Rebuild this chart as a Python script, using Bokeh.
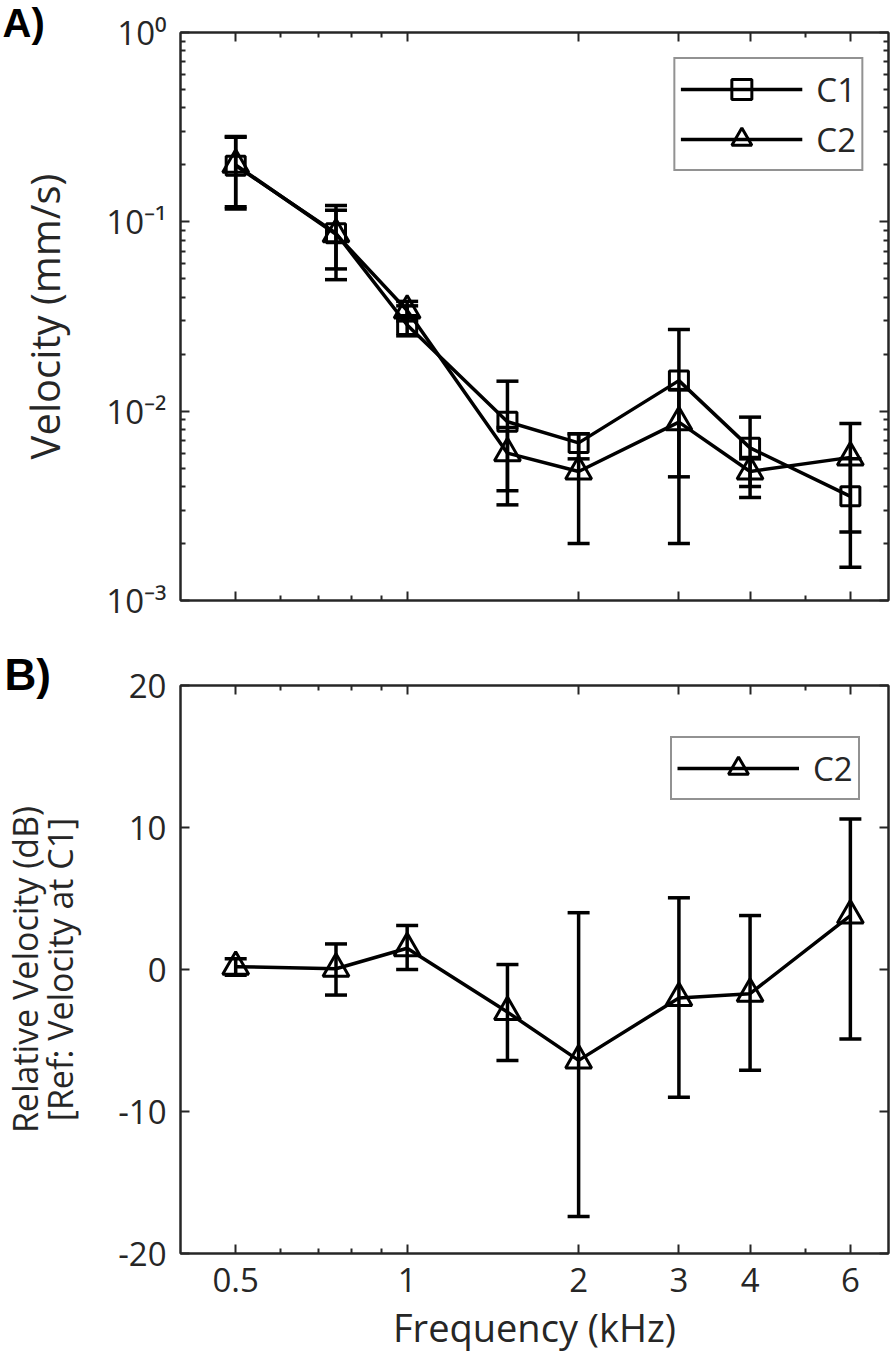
import math
from bokeh.plotting import figure
from bokeh.models import (ColumnDataSource, Whisker, TeeHead, FixedTicker,
                          LogAxis, LinearAxis, Legend, LegendItem, Label,
                          CustomJSTickFormatter)
from bokeh.layouts import column
from bokeh.embed import file_html
from bokeh.resources import INLINE

# ---------------- data ----------------
freq_khz = [0.5, 0.75, 1.0, 1.5, 2.0, 3.0, 4.0, 6.0]

c1_velocity = [0.198, 0.087, 0.0285, 0.0088, 0.0068, 0.0145, 0.0064, 0.00355]
c1_upper = [0.282, 0.115, 0.036, 0.0144, 0.0076, 0.027, 0.0093, 0.0056]
c1_lower = [0.117, 0.0564, 0.025, 0.0032, 0.0056, 0.0020, 0.0035, 0.0015]

c2_velocity = [0.200, 0.086, 0.034, 0.0060, 0.0048, 0.00875, 0.0048, 0.0057]
c2_upper = [0.280, 0.122, 0.038, 0.0082, 0.0076, 0.013, 0.0056, 0.0086]
c2_lower = [0.120, 0.0495, 0.030, 0.0038, 0.0020, 0.0045, 0.0040, 0.0023]

rel_db = [0.2, 0.05, 1.5, -3.0, -6.4, -2.0, -1.7, 3.8]
rel_upper = [0.75, 1.8, 3.1, 0.35, 4.0, 5.05, 3.8, 10.6]
rel_lower = [-0.4, -1.8, 0.0, -6.4, -17.4, -9.0, -7.1, -4.9]

x_ticks = [0.5, 1, 2, 3, 4, 6]
x_tick_labels = ["0.5", "1", "2", "3", "4", "6"]
x_minor_ticks = [0.6, 0.7, 0.8, 0.9, 5]
ya_ticks = [0.001, 0.01, 0.1, 1]
ya_tick_labels = ["10\u207b\u00b3", "10\u207b\u00b2", "10\u207b\u00b9", "10\u2070"]
ya_minor_ticks = [m * d for d in (0.001, 0.01, 0.1) for m in range(2, 10)]
yb_ticks = [-20, -10, 0, 10, 20]
yb_tick_labels = ["-20", "-10", "0", "10", "20"]

INK = "#262626"
FONT = "Open Sans"
FS = "33px"
XLABEL_FS = "38px"


def log_formatter(tick_values, tick_labels):
    return CustomJSTickFormatter(args=dict(tvals=tick_values, tlabs=tick_labels), code="""
        let best = 0, bd = Infinity;
        for (let i = 0; i < tvals.length; i++) {
            const d = Math.abs(Math.log(tick) - Math.log(tvals[i]));
            if (d < bd) { bd = d; best = i; }
        }
        return tlabs[best];
    """)


def lin_formatter(tick_values, tick_labels):
    return CustomJSTickFormatter(args=dict(tvals=tick_values, tlabs=tick_labels), code="""
        let best = 0, bd = Infinity;
        for (let i = 0; i < tvals.length; i++) {
            const d = Math.abs(tick - tvals[i]);
            if (d < bd) { bd = d; best = i; }
        }
        return tlabs[best];
    """)


def blank_formatter():
    return CustomJSTickFormatter(code="return '';")


def style_axis(ax, show_labels):
    ax.axis_line_color = INK
    ax.axis_line_width = 2
    ax.major_tick_in = 9
    ax.major_tick_out = 0
    ax.minor_tick_in = 5
    ax.minor_tick_out = 0
    ax.major_tick_line_color = INK
    ax.major_tick_line_width = 2
    ax.minor_tick_line_color = INK
    ax.minor_tick_line_width = 2
    ax.major_label_text_font = FONT
    ax.major_label_text_color = INK
    ax.axis_label_text_font = FONT
    ax.axis_label_text_font_size = XLABEL_FS
    ax.axis_label_text_font_style = "normal"
    ax.axis_label_text_color = INK
    if show_labels:
        ax.major_label_text_font_size = FS
        ax.major_label_standoff = 14
    else:
        ax.formatter = blank_formatter()
        ax.major_label_text_font_size = "1px"
        ax.major_label_standoff = 0


def make_fig(y_type, y_range, top, bottom):
    p = figure(x_axis_type="log", y_axis_type=y_type, x_range=(0.4, 7.0),
               y_range=y_range, frame_width=708, frame_height=568,
               min_border_left=180, min_border_right=2,
               min_border_top=top, min_border_bottom=bottom,
               output_backend="svg", toolbar_location=None,
               background_fill_color="white", border_fill_color="white")
    p.outline_line_color = INK
    p.outline_line_width = 2
    p.xgrid.visible = False
    p.ygrid.visible = False
    return p


def add_errorbars(p, src):
    p.add_layout(Whisker(base="f", upper="up", lower="lo", source=src,
                         dimension="height", line_color="black", line_width=3.5,
                         upper_head=TeeHead(size=22, line_color="black", line_width=3.5),
                         lower_head=TeeHead(size=22, line_color="black", line_width=3.5)))


def x_ticker():
    return FixedTicker(ticks=x_ticks, minor_ticks=x_minor_ticks)


def style_legend(leg):
    leg.border_line_color = INK
    leg.border_line_width = 2
    leg.background_fill_color = "white"
    leg.background_fill_alpha = 1
    leg.label_text_font = FONT
    leg.label_text_font_size = FS
    leg.label_text_color = INK
    leg.glyph_width = 122
    leg.glyph_height = 50
    leg.spacing = 0
    leg.padding = 5
    leg.label_standoff = 14


def side_label(p, place, text, x, y, size, angle=0.0, bold=False, font=FONT,
               align="center", baseline="middle", color=INK):
    # placed in a side panel (not clipped to the frame), positioned in canvas pixels
    p.add_layout(Label(x=x, y=y, x_units="canvas", y_units="canvas", text=text,
                       angle=angle, text_font=font,
                       text_font_style="bold" if bold else "normal",
                       text_font_size=size, text_color=color,
                       text_align=align, text_baseline=baseline), place)


# ---------------- panel A ----------------
pa = make_fig("log", (0.001, 1.0), 32, 35)

pa.xaxis.ticker = x_ticker()
style_axis(pa.xaxis[0], False)
pa.yaxis.ticker = FixedTicker(ticks=ya_ticks, minor_ticks=ya_minor_ticks)
pa.yaxis.formatter = log_formatter(ya_ticks, ya_tick_labels)
style_axis(pa.yaxis[0], True)

top_a = LogAxis(ticker=x_ticker())
style_axis(top_a, False)
pa.add_layout(top_a, "above")
right_a = LogAxis(ticker=FixedTicker(ticks=ya_ticks, minor_ticks=ya_minor_ticks))
style_axis(right_a, False)
pa.add_layout(right_a, "right")

src1 = ColumnDataSource(dict(f=freq_khz, v=c1_velocity, up=c1_upper, lo=c1_lower))
src2 = ColumnDataSource(dict(f=freq_khz, v=c2_velocity, up=c2_upper, lo=c2_lower))
add_errorbars(pa, src1)
add_errorbars(pa, src2)
l1 = pa.line("f", "v", source=src1, line_color="black", line_width=3.5)
m1 = pa.scatter("f", "v", source=src1, marker="square", size=19,
                fill_color=None, line_color="black", line_width=3)
l2 = pa.line("f", "v", source=src2, line_color="black", line_width=3.5)
m2 = pa.scatter("f", "v", source=src2, marker="triangle", size=26,
                fill_color=None, line_color="black", line_width=3)

leg_a = Legend(items=[LegendItem(label="C1", renderers=[l1, m1]),
                      LegendItem(label="C2", renderers=[l2, m2])],
               location="top_right", margin=25)
style_legend(leg_a)
pa.add_layout(leg_a)

side_label(pa, "left", "Velocity (mm/s)", 44, 316, "40px", angle=math.pi / 2)
side_label(pa, "left", "A)", 2, 0, "40px", bold=True, font="Liberation Sans",
           align="left", baseline="top", color="black")

# ---------------- panel B ----------------
pb = make_fig("linear", (-20, 20), 50, 117)
pb.xaxis.ticker = x_ticker()
pb.xaxis.formatter = log_formatter(x_ticks, x_tick_labels)
pb.xaxis.axis_label = "Frequency (kHz)"
pb.xaxis.axis_label_standoff = 6
style_axis(pb.xaxis[0], True)
pb.xaxis.major_label_standoff = 14
pb.yaxis.ticker = FixedTicker(ticks=yb_ticks, minor_ticks=[])
pb.yaxis.formatter = lin_formatter(yb_ticks, yb_tick_labels)
style_axis(pb.yaxis[0], True)

top_b = LogAxis(ticker=x_ticker())
style_axis(top_b, False)
pb.add_layout(top_b, "above")
right_b = LinearAxis(ticker=FixedTicker(ticks=yb_ticks, minor_ticks=[]))
style_axis(right_b, False)
pb.add_layout(right_b, "right")

srcb = ColumnDataSource(dict(f=freq_khz, v=rel_db, up=rel_upper, lo=rel_lower))
add_errorbars(pb, srcb)
lb = pb.line("f", "v", source=srcb, line_color="black", line_width=3.5)
mb = pb.scatter("f", "v", source=srcb, marker="triangle", size=26,
                fill_color=None, line_color="black", line_width=3)

leg_b = Legend(items=[LegendItem(label="C2", renderers=[lb, mb])],
               location=(490, 453))
style_legend(leg_b)
pb.add_layout(leg_b)

side_label(pb, "left", "Relative Velocity (dB)", 24, 334, "34px", angle=math.pi / 2)
side_label(pb, "left", "[Ref: Velocity at C1]", 59, 334, "34px", angle=math.pi / 2)
side_label(pb, "above", "B)", 4, 14, "44px", bold=True, font="Liberation Sans",
           align="left", baseline="top", color="black")

layout = column(pa, pb, spacing=0)
open("out.html", "w").write(file_html(layout, INLINE))
